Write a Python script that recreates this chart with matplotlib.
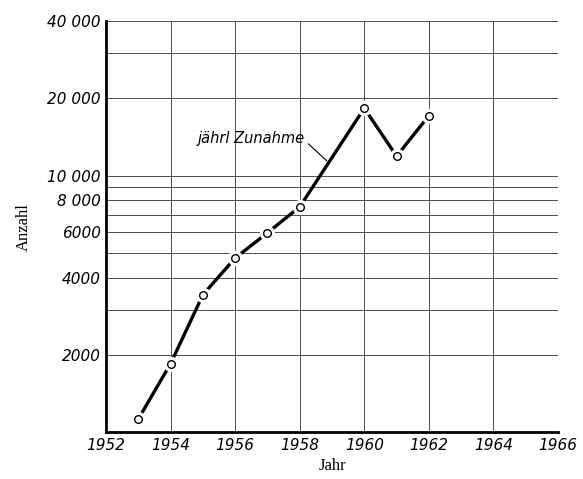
import matplotlib
matplotlib.use("Agg")
import matplotlib.pyplot as plt
import numpy as np

# Werte
jahre = [1953, 1954, 1955, 1956, 1957, 1958, 1960, 1961, 1962]
anzahl = [1125, 1850, 3430, 4770, 5980, 7550, 18300, 11900, 17100]

x_ticks = [1952, 1954, 1956, 1958, 1960, 1962, 1964, 1966]
y_ticks = [2000, 4000, 6000, 8000, 10000, 20000, 40000]
y_labels = ["2000", "4000", "6000", "8 000", "10 000", "20 000", "40 000"]
y_grid = [2000, 3000, 4000, 5000, 6000, 7000, 8000, 9000, 10000, 20000, 30000, 40000]

fig = plt.figure(figsize=(5.83, 4.79), dpi=100)
ax = fig.add_axes([0.182, 0.098, 0.775, 0.858])

ax.set_yscale("log")
ax.set_xlim(1952, 1966)
ax.set_ylim(1000, 40000)

# Gitter
for g in y_grid:
    ax.axhline(g, color="0.3", lw=0.7, zorder=1)
for g in x_ticks[1:]:
    ax.axvline(g, color="0.3", lw=0.7, zorder=1)

ax.plot(jahre, anzahl, color="black", lw=2.4, solid_capstyle="butt", zorder=3)
ax.plot(jahre, anzahl, ls="none", marker="o", ms=10, mfc="white", mec="white", zorder=4)
ax.plot(jahre, anzahl, ls="none", marker="o", ms=5.5, mfc="white", mec="black", mew=1.0, zorder=5)

ax.annotate("jährl Zunahme", xy=(1958.84, 11400), xytext=(1958.15, 13900),
            fontsize=10.5, style="italic", ha="right", va="center",
            arrowprops=dict(arrowstyle="-", color="black", lw=0.8,
                            shrinkA=1, shrinkB=0, relpos=(1, 0.4)))

ax.set_xticks(x_ticks)
ax.set_xticklabels([str(t) for t in x_ticks], style="italic", fontsize=11)
ax.set_yticks(y_ticks)
ax.set_yticklabels(y_labels, style="italic", fontsize=11)
ax.yaxis.set_minor_locator(matplotlib.ticker.NullLocator())
ax.tick_params(length=0, pad=4)

for s in ["top", "right"]:
    ax.spines[s].set_visible(False)
for s in ["left", "bottom"]:
    ax.spines[s].set_linewidth(2)

ax.set_xlabel("Jahr", family="Liberation Serif", fontsize=12, labelpad=4)
ax.set_ylabel("Anzahl", family="Liberation Serif", fontsize=12, labelpad=11)

fig.savefig("out.png", dpi=100)
